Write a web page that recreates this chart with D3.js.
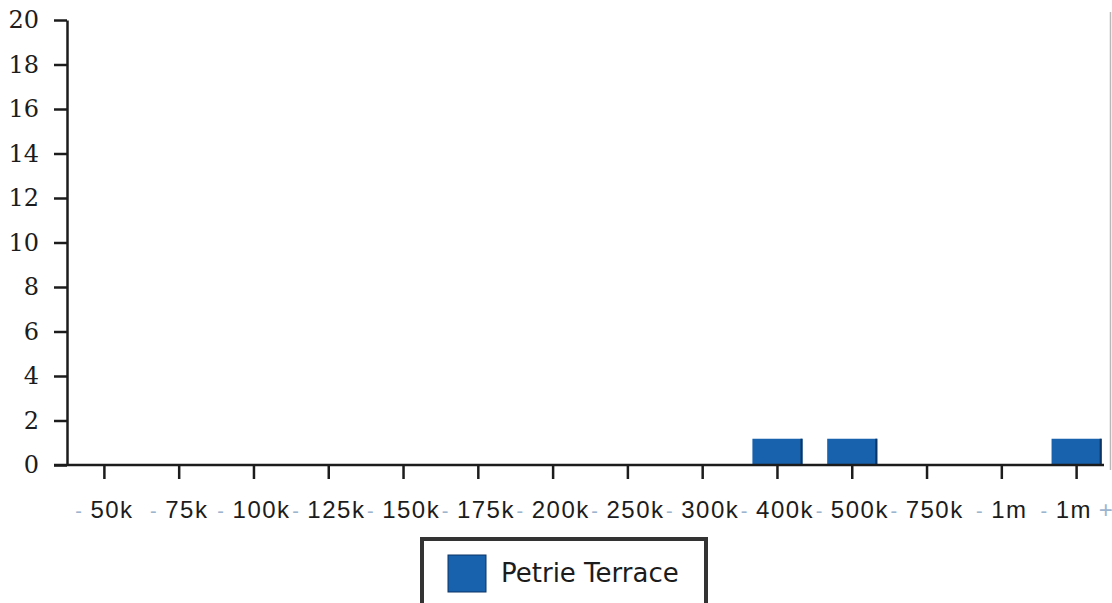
<!DOCTYPE html>
<html>
<head>
<meta charset="utf-8">
<script src="https://cdn.jsdelivr.net/npm/d3@7"></script>
<style>
  html, body { margin: 0; padding: 0; background: #fff; }
  svg { display: block; font-family: "DejaVu Sans", Verdana, sans-serif; }
</style>
</head>
<body>
<svg id="chart" width="1112" height="603"></svg>
<script>
// 价格区间（标签前的 "-" 是被截断的部分）
const categories = ["50k", "75k", "100k", "125k", "150k", "175k", "200k", "250k", "300k", "400k", "500k", "750k", "1m", "1m +"];
const counts = [0, 0, 0, 0, 0, 0, 0, 0, 0, 1, 1, 0, 0, 1];
const yTicks = [0, 2, 4, 6, 8, 10, 12, 14, 16, 18, 20];
const seriesName = "Petrie Terrace";

const barColor = "#1761ad";
const barEdge = "#0c3566";
const ink = "#1c1c1c";
const faint = "#9db4cf";

const svg = d3.select("#chart");

const x = d3.scaleBand()
  .domain(categories)
  .range([67, 1114])
  .paddingInner(0.33)
  .paddingOuter(0.165);

const y = d3.scaleLinear()
  .domain([0, 20])
  .range([465, 20]);

// 右侧淡灰边线
svg.append("line")
  .attr("x1", 1110.5).attr("x2", 1110.5)
  .attr("y1", 12).attr("y2", 470)
  .attr("stroke", "#b8b8b8")
  .attr("stroke-width", 1.5);

// 柱子
const bars = svg.append("g").attr("class", "bars");
const data = categories.map((c, i) => ({ cat: c, value: counts[i] })).filter(d => d.value > 0);

bars.selectAll("rect.bar")
  .data(data)
  .enter()
  .append("rect")
  .attr("class", "bar")
  .attr("x", d => x(d.cat))
  .attr("y", d => y(d.value) - 4)
  .attr("width", x.bandwidth())
  .attr("height", d => y(0) - y(d.value) + 4)
  .attr("fill", barColor);

// 柱子右侧暗边
bars.selectAll("line.edge")
  .data(data)
  .enter()
  .append("line")
  .attr("class", "edge")
  .attr("x1", d => x(d.cat) + x.bandwidth() - 1)
  .attr("x2", d => x(d.cat) + x.bandwidth() - 1)
  .attr("y1", d => y(d.value) - 4)
  .attr("y2", y(0))
  .attr("stroke", barEdge)
  .attr("stroke-width", 2);

// Y 轴
const yAxis = svg.append("g")
  .attr("transform", "translate(67,0)")
  .call(d3.axisLeft(y).tickValues(yTicks).tickSize(13).tickPadding(15).tickSizeOuter(0));
yAxis.select(".domain").attr("stroke", ink).attr("stroke-width", 2.5);
yAxis.selectAll(".tick line").attr("stroke", ink).attr("stroke-width", 2.5);
yAxis.selectAll(".tick text")
  .attr("fill", ink)
  .style("font-size", "24px")
  .style("font-family", "'DejaVu Serif', 'Liberation Serif', serif");

// X 轴
const xAxis = svg.append("g")
  .attr("transform", `translate(0,${y(0)})`)
  .call(d3.axisBottom(x).tickSize(14).tickPadding(22).tickSizeOuter(0));
xAxis.select(".domain").remove();
xAxis.append("line")
  .attr("x1", 54).attr("x2", 1104)
  .attr("y1", 0).attr("y2", 0)
  .attr("stroke", ink)
  .attr("stroke-width", 2.5);
xAxis.selectAll(".tick line").attr("stroke", ink).attr("stroke-width", 2.5);

const xText = xAxis.selectAll(".tick text")
  .text(null)
  .attr("fill", ink)
  .style("font-size", "24px");
xText.each(function(d) {
  const t = d3.select(this);
  const parts = d.split(" ");
  t.append("tspan").attr("fill", faint).style("font-size", "20px").text("- ");
  t.append("tspan").attr("dx", 3).style("letter-spacing", "1.5px").text(parts[0]);
  if (parts[1]) t.append("tspan").attr("fill", faint).text(" " + parts[1]);
});

// 图例
const legend = svg.append("g").attr("class", "legend");
legend.append("rect")
  .attr("x", 422).attr("y", 539)
  .attr("width", 284).attr("height", 80)
  .attr("fill", "#fff")
  .attr("stroke", "#333")
  .attr("stroke-width", 4);
legend.append("rect")
  .attr("x", 448).attr("y", 555)
  .attr("width", 38).attr("height", 37)
  .attr("fill", barColor)
  .attr("stroke", barEdge)
  .attr("stroke-width", 1);
legend.append("text")
  .attr("x", 501).attr("y", 582)
  .attr("fill", ink)
  .style("font-size", "26px")
  .text(seriesName);
</script>
</body>
</html>
